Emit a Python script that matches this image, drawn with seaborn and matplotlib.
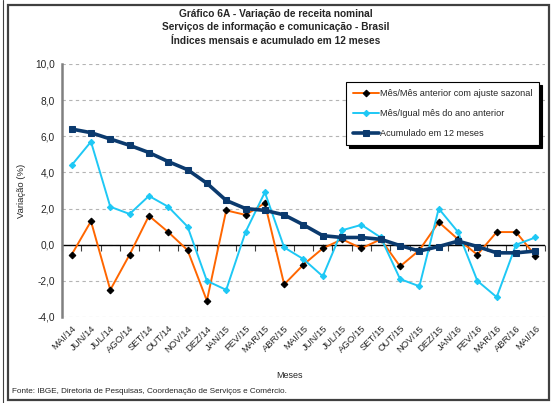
import matplotlib.pyplot as plt
import matplotlib.ticker as mticker
from matplotlib.lines import Line2D
from matplotlib.patches import Rectangle
import pandas as pd
import seaborn as sns

# dados
meses = ['MAI/14', 'JUN/14', 'JUL/14', 'AGO/14', 'SET/14', 'OUT/14', 'NOV/14', 'DEZ/14',
         'JAN/15', 'FEV/15', 'MAR/15', 'ABR/15', 'MAI/15', 'JUN/15', 'JUL/15', 'AGO/15',
         'SET/15', 'OUT/15', 'NOV/15', 'DEZ/15', 'JAN/16', 'FEV/16', 'MAR/16', 'ABR/16', 'MAI/16']
mes_ajuste = [-0.55, 1.3, -2.5, -0.55, 1.6, 0.7, -0.3, -3.1,
              1.9, 1.65, 2.3, -2.2, -1.1, -0.2, 0.3, -0.2,
              0.3, -1.2, -0.3, 1.25, 0.3, -0.55, 0.7, 0.7, -0.6]
mes_igual = [4.4, 5.7, 2.1, 1.7, 2.7, 2.1, 1.0, -2.0,
             -2.5, 0.7, 2.9, -0.15, -0.8, -1.75, 0.8, 1.1,
             0.4, -1.9, -2.3, 2.0, 0.7, -2.0, -2.9, 0.0, 0.4]
acumulado = [6.4, 6.2, 5.85, 5.5, 5.1, 4.6, 4.15, 3.4,
             2.45, 2.0, 1.9, 1.65, 1.1, 0.5, 0.4, 0.4,
             0.3, -0.05, -0.35, -0.1, 0.2, -0.1, -0.45, -0.45, -0.35]

df = pd.DataFrame({'Meses': meses, 'ajuste': mes_ajuste, 'igual': mes_igual, 'acum': acumulado})

sns.set_style('white')
plt.rcParams['font.family'] = ['Liberation Sans', 'DejaVu Sans']

fig = plt.figure(figsize=(5.52, 4.03), dpi=100)
ax = fig.add_axes([0.1123, 0.2134, 0.875, 0.6278])

sns.lineplot(data=df, x='Meses', y='ajuste', ax=ax, sort=False, color='#FF6600', lw=1.4,
             marker='D', ms=3.4, mfc='black', mec='black', label='Mês/Mês anterior com ajuste sazonal')
sns.lineplot(data=df, x='Meses', y='igual', ax=ax, sort=False, color='#1EC8F5', lw=1.4,
             marker='D', ms=3.2, mfc='#1EC8F5', mec='#1EC8F5', label='Mês/Igual mês do ano anterior')
sns.lineplot(data=df, x='Meses', y='acum', ax=ax, sort=False, color='#0B3A6E', lw=2.6,
             marker='s', ms=4.3, mfc='#0B3A6E', mec='#0B3A6E', label='Acumulado em 12 meses')

ymin, ymax = -4, 10
ax.set_ylim(ymin, ymax)
ax.set_xlim(-0.5, len(meses) - 0.5)
ax.yaxis.set_major_locator(mticker.MultipleLocator(2))
ax.yaxis.set_major_formatter(mticker.FuncFormatter(lambda v, _: f'{v:.1f}'.replace('.', ',')))
ax.yaxis.grid(True, ls=(0, (3, 3)), color='#b4b4b4', lw=0.8)
ax.set_axisbelow(True)
ax.axhline(0, color='black', lw=1, zorder=1.5)

for s in ['top', 'right', 'bottom']:
    ax.spines[s].set_visible(False)
ax.spines['left'].set_color('#808080')
ax.spines['left'].set_linewidth(1.8)
ax.tick_params(axis='y', length=3, width=1, color='black', labelsize=7.3, pad=2)

ax.set_xticks(range(len(meses)))
ax.set_xticklabels(meses, rotation=45, ha='right', va='top', rotation_mode='anchor', fontsize=6.8)
ax.tick_params(axis='x', length=0, pad=5)

# marcas do eixo x sobre a linha do zero (entre categorias)
sec = ax.secondary_xaxis((0 - ymin) / (ymax - ymin))
sec.set_xticks([k - 0.5 for k in range(len(meses) + 1)])
sec.tick_params(axis='x', length=4, width=0.8, color='#404040', labelbottom=False)
sec.spines['bottom'].set_visible(False)

ax.set_xlabel('Meses', fontsize=6.5)
ax.xaxis.set_label_coords(0.472, -0.215)
ax.set_ylabel('Variação (%)', fontsize=6.8)
ax.yaxis.set_label_coords(-0.075, 0.5)

fig.text(0.5, 0.978, 'Gráfico 6A - Variação de receita nominal\n'
         'Serviços de informação e comunicação - Brasil\n'
         'Índices mensais e acumulado em 12 meses',
         ha='center', va='top', fontsize=7.3, fontweight='bold', linespacing=1.45)
fig.text(0.022, 0.02, 'Fonte: IBGE, Diretoria de Pesquisas, Coordenação de Serviços e Comércio.',
         fontsize=5.9, ha='left', va='bottom')

leg = ax.legend(loc='upper left', bbox_to_anchor=(0.578, 0.948), fontsize=6.6, frameon=True,
                fancybox=False, shadow={'color': 'black', 'alpha': 1, 'ox': 2, 'oy': -2},
                handlelength=2.8, handletextpad=0.1, labelspacing=1.2, borderpad=0.8)
leg.get_frame().set_edgecolor('black')
leg.get_frame().set_linewidth(0.8)

# moldura externa
fig.add_artist(Rectangle((0.0145, 0.008), 0.98, 0.98, transform=fig.transFigure,
                         fill=False, ec='#404040', lw=1.6))
fig.add_artist(Line2D([0.006, 0.006], [0.0, 1.0], transform=fig.transFigure, color='#404040', lw=0.8))

fig.savefig('out.png', dpi=100)
